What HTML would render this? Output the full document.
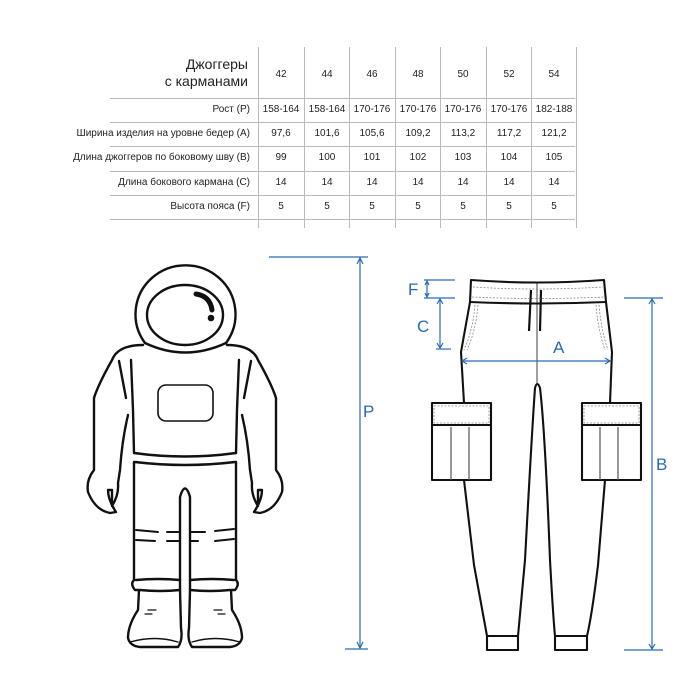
<!DOCTYPE html>
<html><head><meta charset="utf-8"><style>
html,body{margin:0;padding:0;background:#fff;}
#w{position:relative;width:700px;height:700px;overflow:hidden;font-family:"Liberation Sans","DejaVu Sans",sans-serif;color:#222;}
.t{position:absolute;font-size:10px;white-space:nowrap;}
.r{text-align:right;}
.c{text-align:center;width:45px;}
</style></head><body><div id="w">
<svg width="700" height="700" style="position:absolute;left:0;top:0">
<g stroke="#bbb" stroke-width="1">
<line x1="110" y1="98.5" x2="575" y2="98.5"/><line x1="110" y1="122.5" x2="575" y2="122.5"/>
<line x1="110" y1="146.5" x2="575" y2="146.5"/><line x1="110" y1="171.5" x2="575" y2="171.5"/>
<line x1="110" y1="195.5" x2="575" y2="195.5"/><line x1="110" y1="219.5" x2="575" y2="219.5"/>
<line x1="258.5" y1="47" x2="258.5" y2="228"/><line x1="304.5" y1="47" x2="304.5" y2="228"/>
<line x1="349.5" y1="47" x2="349.5" y2="228"/><line x1="395.5" y1="47" x2="395.5" y2="228"/>
<line x1="440.5" y1="47" x2="440.5" y2="228"/><line x1="486.5" y1="47" x2="486.5" y2="228"/>
<line x1="531.5" y1="47" x2="531.5" y2="228"/><line x1="576.5" y1="47" x2="576.5" y2="228"/>
</g>
<!-- astronaut -->
<g fill="none" stroke="#111" stroke-width="2.4" stroke-linecap="round" stroke-linejoin="round">
<path d="M145,343 A50,49 0 1 1 226,343"/>
<path d="M145,343 Q185,362 226,343"/>
<ellipse cx="185" cy="315" rx="38" ry="30"/>
<path d="M143,345 Q118,345 112,360 Q98,385 94,398 L94,470 Q86,480 88,492 Q95,510 110,513 L116,512 Q108,500 108,490 L112,490 L112,506 Q119,495 118,483 L120,470 Q122,440 128,415"/>
<path d="M227,345 Q252,345 258,360 Q272,385 276,398 L276,470 Q284,480 282,492 Q275,510 260,513 L254,512 Q262,500 262,490 L258,490 L258,506 Q251,495 252,483 L250,470 Q248,440 242,415"/>
<path d="M119,361 L126,398 M131,360 L133,410 L134,453"/>
<path d="M251,361 L244,398 M239,360 L237,410 L236,453"/>
<rect x="158" y="385" width="55" height="36" rx="8" stroke-width="1.6"/>
<path d="M134,453 Q185,460 236,453 M135,462 Q185,468 235,462"/>
<path d="M134,462 L134,580 Q130,584 135,590 L139,590 L138,610 Q128,625 128,638 Q130,646 140,647 L178,647 Q183,640 181,628 L180,590 M180,590 L180,497 Q185,480 190,497 L190,590 L189,628 Q187,640 192,647 L230,647 Q240,646 242,638 Q242,625 232,610 L231,590 L235,590 Q240,584 236,580 L236,462"/>
<path d="M136,580 Q158,578 180,580 M190,580 Q212,578 234,580 M140,590 Q160,592 180,590 M190,590 Q210,592 230,590"/>
<path d="M136,530 L158,532 M167,532 L180,532 M190,532 L205,532 M215,531 L234,529 M136,540 L155,541 M167,541 L180,541 M190,541 L198,541 M215,541 L234,539" stroke-width="2"/>
<path d="M148,610 L156,610 M145,614 L152,614 M214,610 L222,610 M218,614 L225,614" stroke-width="1.2"/>
<path d="M130,642 Q155,635 178,642 M192,642 Q215,635 240,642" stroke-width="1.4"/>
</g>
<path d="M196,294 Q210,296 212,310" stroke="#111" stroke-width="5" fill="none" stroke-linecap="round"/>
<circle cx="211" cy="318" r="3.3" fill="#111"/>
<!-- P -->
<g stroke="#2a6ab5" fill="#2a6ab5" stroke-width="1.2">
<line x1="269" y1="257" x2="368" y2="257"/>
<line x1="360" y1="258" x2="360" y2="648"/>
<path d="M357,264 L360,258 L363,264" fill="none"/><path d="M357,642 L360,648 L363,642" fill="none"/>
<line x1="345" y1="649" x2="368" y2="649"/>
</g>
<!-- pants -->
<g fill="none" stroke="#111" stroke-width="2.1" stroke-linejoin="round">
<path d="M471,280 Q537,285 604,280 L606,302 Q537,305 470,302 Z"/>
<path d="M470,302 L461,352 L464,403 M606,302 L612,352 L610,403"/>
<path d="M464,480 L474,565 Q483,615 487,636 L518,636 Q520,615 525,560 Q532,430 535,388 Q537,380 540,388 Q545,430 550,560 Q553,615 555,636 L587,636 Q592,615 598,565 L605,480"/>
<path d="M487,636 L487,650 L518,650 L518,636 M555,636 L555,650 L587,650 L587,636"/>
<rect x="432" y="403" width="59" height="77"/>
<rect x="582" y="403" width="59" height="77"/>
<path d="M432,425 L491,425 M582,425 L641,425"/>
<path d="M451,427 L451,480 M469,427 L469,480 M600,427 L600,480 M618,427 L618,480" stroke="#555" stroke-width="1.2"/>
<path d="M537,283 L537,383" stroke-width="0.8"/>
<path d="M531,290 L529,331 M541,290 L540,331" stroke-width="2.2"/>
</g>
<g fill="none" stroke="#888" stroke-width="0.8" stroke-dasharray="2,1.5">
<path d="M473,287 Q537,291 603,287 M472,297 Q537,300 605,297"/>
<path d="M475,305 Q473,330 464,350 M478,305 Q476,330 467,350 M599,305 Q601,330 608,350 M596,305 Q598,330 605,350"/>
<path d="M434,406 L489,406 L489,423 L434,423 Z M584,406 L639,406 L639,423 L584,423 Z"/>
</g>
<g stroke="#2a6ab5" fill="none" stroke-width="1.2">
<line x1="424" y1="280" x2="455" y2="280"/><line x1="424" y1="298" x2="455" y2="298"/>
<line x1="427" y1="281" x2="427" y2="297"/><path d="M425,285 L427,281 L429,285 M425,293 L427,297 L429,293"/>
<line x1="440" y1="299" x2="440" y2="348"/><path d="M437,304 L440,299 L443,304 M437,343 L440,348 L443,343"/>
<line x1="436" y1="349" x2="451" y2="349"/>
<line x1="462" y1="361" x2="610" y2="361"/><path d="M467,358 L462,361 L467,364 M605,358 L610,361 L605,364"/>
<line x1="624" y1="298" x2="663" y2="298"/><line x1="624" y1="650" x2="663" y2="650"/>
<line x1="652" y1="299" x2="652" y2="649"/><path d="M649,304 L652,299 L655,304 M649,644 L652,649 L655,644"/>
</g>
</svg>
<div class="t r" style="left:138px;top:56px;width:110px;font-size:14px;line-height:17px">Джоггеры<br>с карманами</div>
<div class="t" style="font-size:17px;color:#2a6ab5;left:363px;top:402px">P</div>
<div class="t" style="font-size:17px;color:#2a6ab5;left:408px;top:280px">F</div>
<div class="t" style="font-size:17px;color:#2a6ab5;left:417px;top:317px">C</div>
<div class="t" style="font-size:17px;color:#2a6ab5;left:553px;top:338px">A</div>
<div class="t" style="font-size:17px;color:#2a6ab5;left:656px;top:455px">B</div>
<div id="tb"></div>
<script>
var xs=[258,304,349,395,440,486,531];
var rows=[["",["42","44","46","48","50","52","54"],69],
["Рост (Р)",["158-164","158-164","170-176","170-176","170-176","170-176","182-188"],104],
["Ширина изделия на уровне бедер (А)",["97,6","101,6","105,6","109,2","113,2","117,2","121,2"],128],
["Длина джоггеров по боковому шву (В)",["99","100","101","102","103","104","105"],152],
["Длина бокового кармана (С)",["14","14","14","14","14","14","14"],177],
["Высота пояса (F)",["5","5","5","5","5","5","5"],201]];
var h="";
rows.forEach(function(r){
 if(r[0])h+='<div class="t r" style="right:450px;top:'+r[2]+'px">'+r[0]+'</div>';
 r[1].forEach(function(v,i){h+='<div class="t c" style="left:'+(xs[i]+0.5)+'px;top:'+r[2]+'px">'+v+'</div>';});
});
document.getElementById("tb").innerHTML=h;
</script>
</div></body></html>
